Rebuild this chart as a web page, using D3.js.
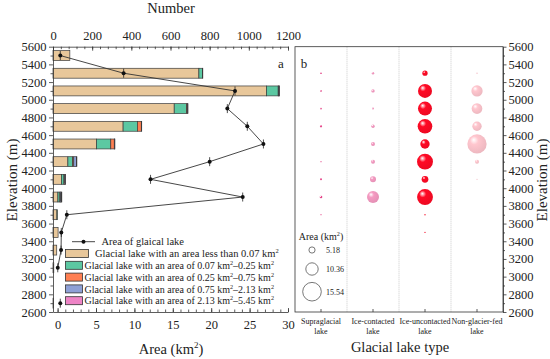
<!DOCTYPE html>
<html lang="en">
<head>
<meta charset="UTF-8">
<title>Glacial lakes by elevation</title>
<script src="https://d3js.org/d3.v7.min.js"></script>
<style>
    body { margin: 0; background: #fff; }
    svg text { font-family: "Liberation Serif", "Times New Roman", serif; fill: #222; }
    .axis path, .axis line { stroke: #333; stroke-width: 0.8; }
</style>
</head>
<body>
<div id="chart"></div>
<script>
// elevation bins (band centres, m)
const elevations = [5500, 5300, 5100, 4900, 4700, 4500, 4300, 4100, 3900, 3700, 3500, 3300, 3100, 2900, 2700];

// number of lakes per size class
const nLess007  = [86, 745, 1090, 619, 358, 222, 76, 43, 25, 20, 26, 19, 4, 0, 2];
const n007to025 = [0, 19, 60, 63, 73, 73, 24, 13, 10, 2, 0, 0, 0, 0, 0];
const n025to075 = [0, 1, 3, 4, 20, 18, 6, 4, 3, 0, 0, 0, 0, 0, 0];
const n075to213 = [0, 0, 2, 2, 2, 2, 14, 3, 4, 0, 0, 0, 0, 0, 0];
const n213to545 = [0, 0, 1, 1, 0, 1, 2, 1, 3, 0, 0, 0, 0, 0, 0];

// total lake area per bin (km2), null = no point
const lakeArea = [0.35, 8.6, 23.1, 22.1, 24.7, 26.8, 19.8, 12.1, 24.1, 1.2, 0.48, 0.45, 0.02, null, 0.35];

// area per lake type (km2)
const lakeTypes = ["Supraglacial lake", "Ice-contacted lake", "Ice-uncontacted lake", "Non-glacier-fed lake"];
const lakeTypeLines = [["Supraglacial", "lake"], ["Ice-contacted", "lake"], ["Ice-uncontacted", "lake"], ["Non-glacier-fed", "lake"]];
const supraArea     = [0, 1.4, 1.4, 1.4, 1.9, 0, 0.5, 1.7, 2.2, 1.0, 0, 0, 0, 0, 0];
const contactArea   = [0, 2.0, 2.8, 1.7, 2.8, 3.3, 3.3, 5.0, 10.0, 0, 0, 0, 0, 0, 0];
const uncontactArea = [0, 4.4, 11.7, 11.7, 12.2, 7.8, 13.3, 5.6, 13.3, 1.1, 0.8, 0, 0, 0, 0];
const nonGlacArea   = [0, 1.1, 9.4, 8.9, 7.8, 16.1, 3.3, 0.3, 0, 0, 0, 0, 0, 0, 0];

const sizeLegend = [5.18, 10.36, 15.54];
const numberTicks = [0, 200, 400, 600, 800, 1000, 1200];
const areaTicks = [0, 5, 10, 15, 20, 25, 30];
const elevTicks = d3.range(2600, 5601, 200);

const classKeys = ["c1", "c2", "c3", "c4", "c5"];
const classColors = ["#e8c79a", "#5cc8a2", "#ff7f52", "#8ea0d6", "#ee84c6"];
const classLabels = [
    [["Glacial lake with an area less than 0.07 km"], ["2", true]],
    [["Glacial lake with an area of 0.07 km"], ["2", true], ["–0.25 km"], ["2", true]],
    [["Glacial lake with an area of 0.25 km"], ["2", true], ["–0.75 km"], ["2", true]],
    [["Glacial lake with an area of 0.75 km"], ["2", true], ["–2.13 km"], ["2", true]],
    [["Glacial lake with an area of 2.13 km"], ["2", true], ["–5.45 km"], ["2", true]]
];
const typeColors = ["#ec4a8e", "#f59bc2", "#ff0a25", "#ffc6ce"];

const W = 550, H = 359;
const svg = d3.select("#chart").append("svg").attr("width", W).attr("height", H);

const aLeft = 53, aRight = 288, bLeft = 295, bRight = 503, yTop = 46.7, yBottom = 312;
const serif = "Liberation Serif, Times New Roman, serif";

const y = d3.scaleLinear().domain([2600, 5600]).range([yBottom, yTop]);
const xNum = d3.scaleLinear().domain([0, 1200]).range([aLeft, aRight]);
const xArea = d3.scaleLinear().domain([-0.6, 30]).range([aLeft, aRight]);
const xType = d3.scaleBand().domain(lakeTypes).range([bLeft, bRight]);
const r = d3.scaleLinear().domain([0, 15.54]).range([0, 9.3]);
const fmt = d3.format("d");

// helper: text with superscripts (shifts back down after each sup)
function richText(sel, parts, size) {
    let raised = false;
    parts.forEach(p => {
        const t = sel.append("tspan").text(p[0]);
        if (p[1]) {
            t.attr("dy", -size * 0.4).attr("font-size", size * 0.62);
            raised = true;
        } else {
            t.attr("font-size", size);
            if (raised) { t.attr("dy", size * 0.4); raised = false; }
        }
    });
}

function styleAxis(g) {
    g.attr("font-family", serif).attr("font-size", 12.5);
    g.selectAll("text").attr("fill", "#222");
}

// gradients for bubbles
const defs = svg.append("defs");
typeColors.forEach((c, i) => {
    const g = defs.append("radialGradient").attr("id", "grad" + i)
        .attr("cx", "40%").attr("cy", "38%").attr("r", "62%").attr("fx", "33%").attr("fy", "28%");
    g.append("stop").attr("offset", "0%").attr("stop-color", "#fff").attr("stop-opacity", 0.95);
    g.append("stop").attr("offset", "35%").attr("stop-color", c);
    g.append("stop").attr("offset", "100%").attr("stop-color", d3.color(c).darker(0.2));
});

// ---------------- panel a ----------------
const rows = elevations.map((e, i) => ({
    elev: e, c1: nLess007[i], c2: n007to025[i], c3: n025to075[i], c4: n075to213[i], c5: n213to545[i]
}));
const stacked = d3.stack().keys(classKeys)(rows);
const barHalf = 56;

stacked.forEach((layer, k) => {
    svg.append("g").selectAll("rect")
        .data(layer.filter(d => d[1] - d[0] > 0))
        .enter().append("rect")
        .attr("x", d => xNum(d[0]))
        .attr("y", d => y(d.data.elev + barHalf))
        .attr("width", d => xNum(d[1]) - xNum(d[0]))
        .attr("height", d => y(d.data.elev - barHalf) - y(d.data.elev + barHalf))
        .attr("fill", classColors[k])
        .attr("stroke", "#3a3a3a")
        .attr("stroke-width", 0.7);
});

// area line
const pts = elevations.map((e, i) => ({ elev: e, v: lakeArea[i] }));
svg.append("path")
    .datum(pts)
    .attr("fill", "none")
    .attr("stroke", "#333")
    .attr("stroke-width", 0.9)
    .attr("d", d3.line().defined(d => d.v !== null).x(d => xArea(d.v)).y(d => y(d.elev)));

const ptG = svg.append("g").selectAll("g").data(pts.filter(d => d.v !== null)).enter().append("g");
ptG.append("line")
    .attr("x1", d => xArea(d.v)).attr("x2", d => xArea(d.v))
    .attr("y1", d => y(d.elev) - 4.5).attr("y2", d => y(d.elev) + 4.5)
    .attr("stroke", "#222").attr("stroke-width", 0.8);
ptG.append("circle")
    .attr("cx", d => xArea(d.v)).attr("cy", d => y(d.elev)).attr("r", 2)
    .attr("fill", "#111");

// axes of panel a
svg.append("g").attr("class", "axis").attr("transform", `translate(0,${yTop})`)
    .call(d3.axisTop(xNum).tickValues(numberTicks).tickFormat(fmt).tickSize(-4).tickSizeOuter(0).tickPadding(7))
    .call(styleAxis);
svg.append("g").attr("class", "axis").attr("transform", `translate(0,${yTop})`)
    .call(d3.axisTop(xNum).tickValues(d3.range(0, 1201, 40)).tickSize(-2.5).tickFormat("").tickSizeOuter(0))
    .select(".domain").remove();

svg.append("g").attr("class", "axis").attr("transform", `translate(0,${yBottom})`)
    .call(d3.axisBottom(xArea).tickValues(areaTicks).tickFormat(fmt).tickSize(-4).tickSizeOuter(0).tickPadding(8))
    .call(styleAxis);
svg.append("g").attr("class", "axis").attr("transform", `translate(0,${yBottom})`)
    .call(d3.axisBottom(xArea).tickValues(d3.range(0, 31, 1)).tickSize(-2.5).tickFormat("").tickSizeOuter(0))
    .select(".domain").remove();

svg.append("g").attr("class", "axis").attr("transform", `translate(${aLeft},0)`)
    .call(d3.axisLeft(y).tickValues(elevTicks).tickFormat(fmt).tickSize(4).tickSizeOuter(0).tickPadding(2.5))
    .call(styleAxis);
svg.append("g").attr("class", "axis").attr("transform", `translate(${aLeft},0)`)
    .call(d3.axisLeft(y).tickValues(d3.range(2700, 5600, 200)).tickSize(2.5).tickFormat("").tickSizeOuter(0))
    .select(".domain").remove();

svg.append("text").attr("x", 171).attr("y", 13).attr("text-anchor", "middle")
    .attr("font-size", 14.5).text("Number");
richText(svg.append("text").attr("x", 171).attr("y", 354).attr("text-anchor", "middle"),
    [["Area (km"], ["2", true], [")"]], 14.5);
svg.append("text").attr("transform", "translate(17,180) rotate(-90)").attr("text-anchor", "middle")
    .attr("font-size", 15).text("Elevation (m)");
svg.append("text").attr("x", 281).attr("y", 68).attr("text-anchor", "middle").attr("font-size", 13).text("a");

// legend a
const lg = svg.append("g");
lg.append("line").attr("x1", 72).attr("x2", 95).attr("y1", 241.7).attr("y2", 241.7)
    .attr("stroke", "#333").attr("stroke-width", 0.9);
lg.append("circle").attr("cx", 83.5).attr("cy", 241.7).attr("r", 2).attr("fill", "#111");
lg.append("text").attr("x", 101.5).attr("y", 245.3).attr("font-size", 10.5).text("Area of glaical lake");
classLabels.forEach((parts, i) => {
    const cy = 253.5 + i * 11.8;
    const w = i === 0 ? 23 : 17;
    lg.append("rect").attr("x", 65.5).attr("y", cy - 4).attr("width", w).attr("height", 8)
        .attr("fill", classColors[i]).attr("stroke", "#333").attr("stroke-width", 0.8);
    richText(lg.append("text").attr("x", i === 0 ? 95 : 84.5).attr("y", cy + 3.6), parts, i === 0 ? 10.5 : 10);
});

// ---------------- panel b ----------------
svg.append("g").selectAll("line").data(lakeTypes.slice(1)).enter().append("line")
    .attr("x1", d => xType(d)).attr("x2", d => xType(d))
    .attr("y1", yTop).attr("y2", yBottom)
    .attr("stroke", "#bdbdbd").attr("stroke-width", 0.8).attr("stroke-dasharray", "1,1");

const typeAreas = [supraArea, contactArea, uncontactArea, nonGlacArea];
const bubbles = [];
typeAreas.forEach((arr, t) => arr.forEach((v, i) => {
    if (v > 0) bubbles.push({ t: t, elev: elevations[i], v: v });
}));
svg.append("g").selectAll("circle").data(bubbles).enter().append("circle")
    .attr("cx", d => xType(lakeTypes[d.t]) + xType.bandwidth() / 2)
    .attr("cy", d => y(d.elev))
    .attr("r", d => Math.max(0.6, r(d.v)))
    .attr("fill", d => `url(#grad${d.t})`);

svg.append("rect").attr("x", bLeft).attr("y", yTop).attr("width", bRight - bLeft).attr("height", yBottom - yTop)
    .attr("fill", "none").attr("stroke", "#333").attr("stroke-width", 0.8);

svg.append("g").attr("class", "axis").attr("transform", `translate(${bRight},0)`)
    .call(d3.axisRight(y).tickValues(elevTicks).tickFormat(fmt).tickSize(3.5).tickSizeOuter(0).tickPadding(2))
    .call(styleAxis);
svg.append("g").attr("class", "axis").attr("transform", `translate(${bRight},0)`)
    .call(d3.axisRight(y).tickValues(d3.range(2700, 5600, 200)).tickSize(2).tickFormat("").tickSizeOuter(0))
    .select(".domain").remove();

const catAxis = svg.append("g").attr("class", "axis").attr("transform", `translate(0,${yBottom})`)
    .call(d3.axisBottom(xType).tickSize(-3).tickSizeOuter(0).tickFormat(""));
catAxis.select(".domain").remove();
lakeTypes.forEach((t, i) => {
    const cx = xType(t) + xType.bandwidth() / 2;
    lakeTypeLines[i].forEach((ln, j) => {
        svg.append("text").attr("x", cx).attr("y", 324 + j * 9.5).attr("text-anchor", "middle")
            .attr("font-size", 8).attr("fill", "#333").text(ln);
    });
});

svg.append("text").attr("x", 400).attr("y", 352).attr("text-anchor", "middle")
    .attr("font-size", 14.5).text("Glacial lake type");
svg.append("text").attr("transform", "translate(547,180) rotate(-90)").attr("text-anchor", "middle")
    .attr("font-size", 15).text("Elevation (m)");
svg.append("text").attr("x", 304).attr("y", 68).attr("text-anchor", "middle").attr("font-size", 13).text("b");

// bubble size legend
richText(svg.append("text").attr("x", 321).attr("y", 240).attr("text-anchor", "middle"),
    [["Area (km"], ["2", true], [")"]], 10);
const legY = [250, 269, 291.7];
sizeLegend.forEach((v, i) => {
    svg.append("circle").attr("cx", 312).attr("cy", legY[i]).attr("r", r(v))
        .attr("fill", "none").attr("stroke", "#555").attr("stroke-width", 0.8);
    svg.append("text").attr("x", 326).attr("y", legY[i] + 3).attr("font-size", 8).text(v.toFixed(2));
});
</script>
</body>
</html>
